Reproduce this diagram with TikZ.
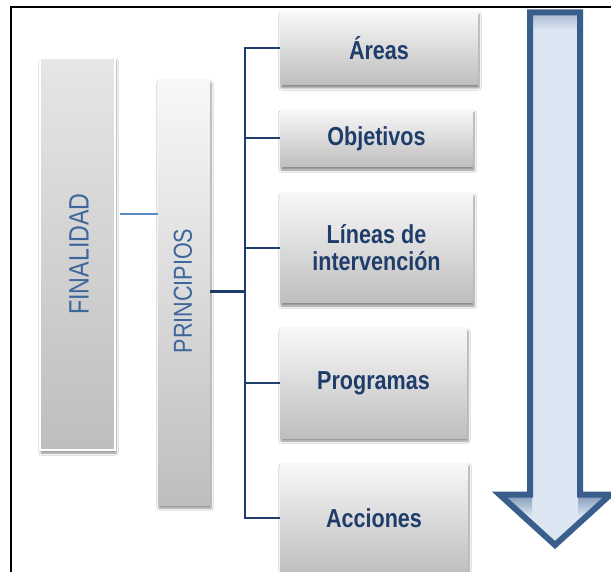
\documentclass[tikz,border=0pt]{standalone}
\usepackage{fontspec}
\setmainfont{Liberation Sans}
\newfontfamily\narrowfont[FakeStretch=0.83]{Liberation Sans}
\usetikzlibrary{shadows.blur}
\definecolor{navy}{HTML}{1F3D6B}
\definecolor{steel}{HTML}{3D669B}
\definecolor{lblue}{HTML}{5A8AC6}
\definecolor{arrowline}{HTML}{3A5E8C}
\definecolor{arrowfill}{HTML}{DCE6F2}
\definecolor{boxtop}{HTML}{F8F8F8}
\definecolor{boxbot}{HTML}{BEBEBE}
\definecolor{fintop}{HTML}{E6E6E6}
\begin{document}
\begin{tikzpicture}[x=1pt,y=-1pt,
  rbox/.style={rectangle, inner sep=0pt, outer sep=0pt, top color=boxtop, bottom color=boxbot,
    blur shadow={shadow xshift=1pt, shadow yshift=-3pt, shadow blur steps=6, shadow opacity=45},
    text=navy, align=center, font=\narrowfont\bfseries\fontsize{26}{27}\selectfont},
  vbox/.style={rectangle, inner sep=0pt, outer sep=0pt,
    blur shadow={shadow xshift=1pt, shadow yshift=-3pt, shadow blur steps=6, shadow opacity=45},
    text=steel},
  tree/.style={draw=navy, line width=2pt}
]
\useasboundingbox (0,0) rectangle (611,572);
\fill[white] (0,0) rectangle (611,572);
\draw[line width=2pt, black] (11,580) -- (11,7) -- (620,7);

% left column boxes
\node[vbox, top color=fintop, bottom color=boxbot, draw=white, line width=1.5pt,
      minimum width=75pt, minimum height=392pt] (fin) at (77.5,254) {};
\node[rotate=90, text=steel, font=\narrowfont\fontsize{28}{28}\selectfont] (fintxt) at (79,254) {FINALIDAD};

\node[vbox, top color=boxtop, bottom color=boxbot,
      minimum width=52pt, minimum height=425pt] (prin) at (184,292.5) {};
\node[rotate=90, text=steel, font=\narrowfont\fontsize{26}{26}\selectfont] (printxt) at (183,291) {PRINCIPIOS};

% right boxes
\node[rbox, minimum width=198pt, minimum height=73pt] (areas) at (379,48.5) {Áreas};
\node[rbox, minimum width=193pt, minimum height=57pt] (objetivos) at (376.5,138.5) {Objetivos};
\node[rbox, minimum width=193pt, minimum height=110pt] (lineas) at (376.5,248) {Líneas de\\intervención};
\node[rbox, minimum width=187pt, minimum height=110pt] (programas) at (373.5,383) {Programas};
\node[rbox, minimum width=188pt, minimum height=110pt] (acciones) at (374,518) {Acciones};

% connectors
\draw[lblue, line width=1.3pt] ([xshift=5pt,yshift=40pt]fin.east) -- ([yshift=40pt]fin.east -| prin.west);
\coordinate (trunk) at (245,292);
\draw[navy, line width=3pt] (prin.east |- trunk) -- (trunk);
\draw[tree] (areas.west) -| (acciones.west -| trunk) -- (acciones.west);
\draw[tree] (objetivos.west) -- (objetivos.west -| trunk);
\draw[tree] (lineas.west) -- (lineas.west -| trunk);
\draw[tree] (programas.west) -- (programas.west -| trunk);

% big arrow
\def\arrowpath{(530,12.5) -- (580,12.5) -- (580,494.5) -- (610.5,494.5) -- (555,545) -- (499.5,494.5) -- (530,494.5) -- cycle}
\fill[arrowfill] \arrowpath;
\begin{scope}
  \clip \arrowpath;
  \shade[top color=arrowline!60!arrowfill, bottom color=arrowfill] (499,494) rectangle (532,516);
  \shade[top color=arrowline!60!arrowfill, bottom color=arrowfill] (578,494) rectangle (612,516);
  \shade[top color=arrowline!35!arrowfill, bottom color=arrowfill] (530,12) rectangle (580,30);
\end{scope}
\draw[arrowline, line width=6pt, line join=miter] \arrowpath;
\end{tikzpicture}
\end{document}
